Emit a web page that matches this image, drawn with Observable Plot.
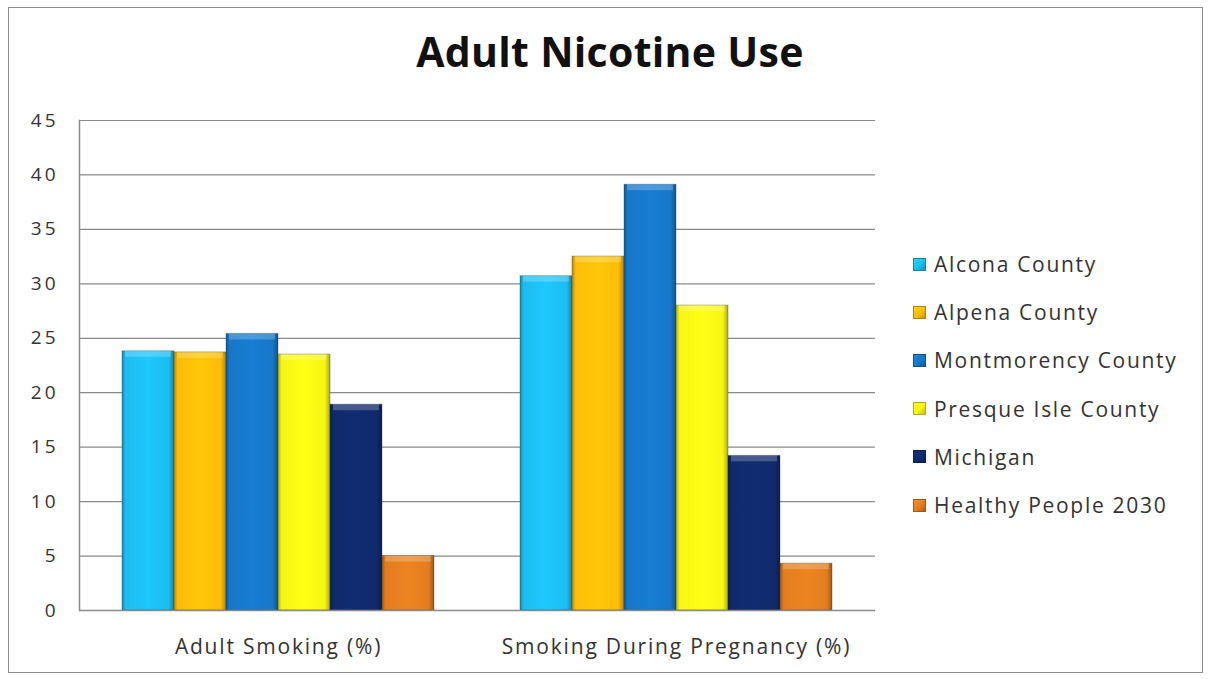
<!DOCTYPE html>
<html>
<head>
<meta charset="utf-8">
<script src="https://cdn.jsdelivr.net/npm/d3@7"></script>
<script src="https://cdn.jsdelivr.net/npm/@observablehq/plot@0.6"></script>
<style>
  html, body { margin: 0; padding: 0; background: #fff; }
  #wrap { position: relative; width: 1208px; height: 679px; overflow: hidden; font-family: "Open Sans", Lato, sans-serif; }
  #border { position: absolute; left: 8px; top: 7px; width: 1195px; height: 666px; border: 1.5px solid #8e8e8e; box-sizing: border-box; }
  #title { position: absolute; left: 0; width: 1220px; top: 27px; text-align: center; font-size: 41px; font-weight: bold; color: #111; line-height: 1.2; letter-spacing: 0.3px; }
  #chart { position: absolute; left: 0; top: 0; }
  #legend { position: absolute; left: 913px; top: 240px; }
  .item { display: flex; align-items: center; height: 48.2px; font-size: 21px; color: #333; letter-spacing: 1.7px; }
  .sw { width: 13px; height: 13px; margin-right: 8px; box-sizing: border-box; }
</style>
</head>
<body>
<div id="wrap">
  <div id="border"></div>
  <div id="title">Adult Nicotine Use</div>
  <div id="chart"></div>
  <div id="legend"></div>
</div>
<script>
// Chart data
const categories = ["Adult Smoking (%)", "Smoking During Pregnancy (%)"];
const seriesNames = ["Alcona County", "Alpena County", "Montmorency County", "Presque Isle County", "Michigan", "Healthy People 2030"];
const seriesColors = ["#1cbdf0", "#fbbd08", "#1777c8", "#f6f514", "#102a6c", "#e27d1f"];
const adultSmoking = [23.8, 23.7, 25.4, 23.5, 18.9, 5.0];
const smokingDuringPregnancy = [30.7, 32.5, 39.1, 28.0, 14.2, 4.3];
const yTicks = [0, 5, 10, 15, 20, 25, 30, 35, 40, 45];

// Long table: one row per bar
const valuesByCategory = [adultSmoking, smokingDuringPregnancy];
const rows = categories.flatMap((category, ci) =>
  seriesNames.map((series, si) => ({category, series, value: valuesByCategory[ci][si]}))
);

// Shaded gradients giving each bar a bevelled look
const svgNS = "http://www.w3.org/2000/svg";
const defsSvg = document.createElementNS(svgNS, "svg");
defsSvg.setAttribute("width", 0);
defsSvg.setAttribute("height", 0);
defsSvg.style.position = "absolute";
const defs = document.createElementNS(svgNS, "defs");
defsSvg.appendChild(defs);
const gradientIds = seriesColors.map((c, i) => {
  const id = "barShade" + i;
  const g = document.createElementNS(svgNS, "linearGradient");
  g.setAttribute("id", id);
  g.setAttribute("x1", "0"); g.setAttribute("x2", "1");
  g.setAttribute("y1", "0"); g.setAttribute("y2", "0");
  const base = d3.color(c);
  const stops = [
    [0, base.darker(0.9)],
    [0.07, base],
    [0.5, base.brighter(0.15)],
    [0.9, base],
    [1, base.darker(1.0)]
  ];
  for (const [o, col] of stops) {
    const s = document.createElementNS(svgNS, "stop");
    s.setAttribute("offset", o);
    s.setAttribute("stop-color", col.formatHex());
    g.appendChild(s);
  }
  defs.appendChild(g);
  return `url(#${id})`;
});
document.getElementById("wrap").appendChild(defsSvg);

const chart = Plot.plot({
  width: 1208,
  height: 679,
  marginTop: 120,
  marginBottom: 69,
  marginLeft: 79,
  marginRight: 333,
  style: {fontFamily: "'Open Sans', Lato, sans-serif", fontSize: "18px", color: "#333", background: "transparent"},
  fx: {domain: categories, padding: 0, label: null},
  x: {domain: seriesNames, paddingInner: 0, paddingOuter: 0.8, axis: null},
  y: {domain: [0, 45], label: null},
  color: {domain: seriesNames, range: gradientIds},
  marks: [
    Plot.gridY(yTicks, {stroke: "#8a8a8a", strokeOpacity: 1, strokeWidth: 1.2}),
    Plot.barY(rows, {fx: "category", x: "series", y: "value", fill: "series", stroke: "#2a3a3a", strokeOpacity: 0.35, strokeWidth: 1}),
    Plot.barY(rows, {fx: "category", x: "series", y1: d => d.value - 0.55, y2: "value", fill: "#fff", fillOpacity: 0.22, insetLeft: 3, insetRight: 3}),
    Plot.ruleY([0], {stroke: "#8a8a8a", strokeWidth: 1.5}),
    Plot.frame({anchor: "left", facet: "super", stroke: "#8a8a8a", strokeWidth: 1.5}),
    Plot.axisY({ticks: yTicks, tickSize: 0, tickPadding: 21, fontSize: 19, label: null}),
    Plot.axisFx({anchor: "bottom", tickSize: 0, tickPadding: 29, fontSize: 21, label: null})
  ]
});

// Wider letter spacing for the tick labels
d3.select(chart).selectAll('[aria-label="y-axis tick label"]').style("letter-spacing", "3px");
d3.select(chart).selectAll('[aria-label="fx-axis tick label"]').style("letter-spacing", "1.8px");
document.getElementById("chart").appendChild(chart);

// Legend
const legend = d3.select("#legend");
seriesNames.forEach((name, i) => {
  const item = legend.append("div").attr("class", "item");
  item.append("div").attr("class", "sw")
    .style("background", `linear-gradient(135deg, ${d3.color(seriesColors[i]).brighter(0.4)}, ${seriesColors[i]} 55%, ${d3.color(seriesColors[i]).darker(0.7)})`)
    .style("border", `1px solid ${d3.color(seriesColors[i]).darker(1)}`);
  item.append("span").text(name);
});
</script>
</body>
</html>
